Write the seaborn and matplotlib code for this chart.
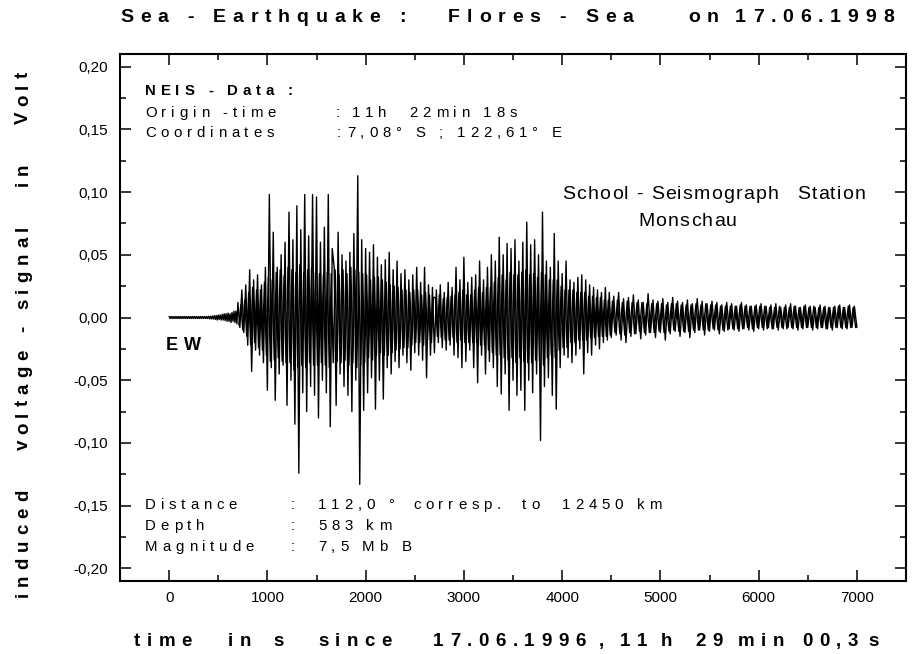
import numpy as np
import pandas as pd
import matplotlib
matplotlib.use("Agg")
import matplotlib.pyplot as plt
import seaborn as sns
from matplotlib.font_manager import FontProperties, findfont, get_font
from matplotlib.ticker import MultipleLocator, FuncFormatter

# ---------------------------------------------------------------------------
# EW component, School-Seismograph Station Monschau (values in Volt).
# "peaks" lists: alternating extreme swings in consecutive sampling windows.
# "core" lists: the dense background oscillation, sampled half a window later.
# ---------------------------------------------------------------------------
quiet_start, quiet_step = 0, 10          # before the P onset
quiet_peaks = [
    0.0008, -0.0008, 0.0008, -0.0008, 0.0008, -0.0008, 0.0008, -0.0008,
    0.0008, -0.0008, 0.0008, -0.0008, 0.0008, -0.0008, 0.0008, -0.0008,
    0.0008, -0.0008, 0.0008, -0.0008, 0.0008, -0.0008, 0.0008, -0.0008,
    0.0008, -0.0008, 0.0008, -0.0008, 0.0008, -0.0008, 0.0008, -0.0008,
    0.0008, -0.0008, 0.0008, -0.0008, 0.0008, -0.0008, 0.0008, -0.0008,
    0.001, -0.001, 0.001, -0.0012, 0.0012, -0.0012, 0.0015, -0.0015,
    0.0015, -0.002, 0.002, -0.0015, 0.002, -0.002, 0.0025, -0.002,
    0.003, -0.0025, 0.003, -0.003, 0.0035, -0.003, 0.003, -0.004,
    0.004, -0.003, 0.005, -0.004, 0.005, -0.005,
]

burst1_start, burst1_step = 700, 20      # first wave group
burst1_peaks = [
    0.012, -0.008, 0.022, -0.012, 0.026, -0.022, 0.038, -0.043, 0.030, -0.026,
    0.034, -0.030, 0.026, -0.036, 0.040, -0.058, 0.098, -0.040, 0.068, -0.066,
    0.040, -0.045, 0.050, -0.038, 0.060, -0.070, 0.084, -0.050, 0.062, -0.085,
    0.089, -0.124, 0.070, -0.060, 0.098, -0.075, 0.065, -0.055, 0.098, -0.062,
    0.096, -0.080, 0.060, -0.050, 0.072, -0.060, 0.098, -0.087, 0.055, 0.040,
    -0.070, 0.068, -0.045, 0.050, -0.055, 0.045, -0.062, 0.052, -0.075, 0.067,
    -0.050, 0.113, -0.133, 0.062, -0.074, 0.055, -0.060, 0.052, -0.048, 0.058,
    -0.073, 0.048, -0.050, 0.042, -0.065, 0.046, -0.040, 0.052, -0.045, 0.038,
    -0.035, 0.045, -0.040, 0.035, -0.030, 0.038, -0.036, 0.030, -0.042, 0.034,
    -0.028, 0.040, -0.030, 0.028, -0.034, 0.040, -0.048, 0.026, -0.030, 0.024,
]
burst1_core = [
    -0.006, 0.010, -0.010, 0.014, -0.015, 0.020, -0.022, 0.024, -0.020, 0.022,
    -0.024, 0.022, -0.026, 0.028, -0.030, 0.032, -0.035, 0.030, -0.034, 0.036,
    -0.032, 0.038, -0.035, 0.033, -0.036, 0.040, -0.036, 0.038, -0.042, 0.036,
    -0.040, 0.042, -0.038, 0.036, -0.040, 0.038, -0.036, 0.040, -0.038, 0.036,
    -0.038, 0.035, -0.036, 0.034, -0.038, 0.036, -0.040, 0.035, -0.036, 0.038,
    -0.035, 0.034, -0.036, 0.038, -0.034, 0.035, -0.038, 0.040, -0.036, 0.038,
    -0.040, 0.036, -0.038, 0.035, -0.036, 0.034, -0.032, 0.030, -0.034, 0.032,
    -0.030, 0.032, -0.028, 0.030, -0.030, 0.028, -0.030, 0.026, -0.028, 0.025,
    -0.026, 0.024, -0.025, 0.022, -0.024, 0.022, -0.024, 0.020, -0.022, 0.022,
    -0.020, 0.022, -0.020, 0.018, -0.022, 0.020, -0.018, 0.018, -0.020, 0.016,
]

burst2_start, burst2_step = 2700, 20     # second wave group
burst2_peaks = [
    -0.028, 0.022, -0.020, 0.026, -0.024, 0.020, -0.026, 0.028, -0.022, 0.024,
    -0.030, 0.040, -0.032, 0.030, -0.040, 0.048, -0.035, 0.028, -0.026, 0.032,
    -0.040, 0.034, -0.052, 0.045, -0.030, 0.030, -0.045, 0.040, -0.035, 0.050,
    -0.040, 0.045, -0.055, 0.064, -0.061, 0.050, -0.045, 0.059, -0.074, 0.055,
    -0.050, 0.062, -0.062, 0.045, -0.058, 0.060, -0.074, 0.076, -0.050, 0.058,
    -0.060, 0.062, -0.045, 0.050, -0.098, 0.084, -0.055, 0.045, -0.048, 0.040,
    -0.062, 0.067, -0.073, 0.045, -0.040, 0.035, -0.030, 0.045, -0.032, 0.030,
    -0.036, 0.028, -0.030, 0.032, -0.025, 0.034, -0.045, 0.030, -0.028, 0.026,
    -0.030, 0.024, -0.022, 0.022, -0.025, 0.020, -0.020, 0.024, -0.018, 0.020,
]
burst2_core = [
    0.016, -0.015, 0.018, -0.016, 0.015, -0.018, 0.016, -0.018, 0.017, -0.016,
    0.018, -0.020, 0.020, -0.018, 0.022, -0.020, 0.018, -0.020, 0.018, -0.020,
    0.022, -0.020, 0.024, -0.022, 0.020, -0.022, 0.024, -0.026, 0.024, -0.028,
    0.028, -0.030, 0.032, -0.030, 0.034, -0.032, 0.030, -0.034, 0.036, -0.032,
    0.034, -0.036, 0.034, -0.032, 0.036, -0.035, 0.038, -0.036, 0.034, -0.036,
    0.035, -0.034, 0.032, -0.035, 0.036, -0.038, 0.034, -0.032, 0.030, -0.030,
    0.030, -0.032, 0.030, -0.026, 0.025, -0.024, 0.022, -0.024, 0.022, -0.020,
    0.022, -0.020, 0.020, -0.018, 0.020, -0.018, 0.020, -0.018, 0.017, -0.016,
    0.017, -0.016, 0.016, -0.015, 0.016, -0.015, 0.014, -0.015, 0.014, -0.014,
]

coda_start, coda_step = 4500, 25         # decaying coda
coda_peaks = [
    -0.016, 0.017, -0.014, 0.020, -0.018, 0.015, -0.020, 0.016, -0.015, 0.018,
    -0.013, 0.014, -0.017, 0.012, -0.014, 0.019, -0.012, 0.014, -0.016, 0.013,
    -0.012, 0.015, -0.018, 0.012, -0.013, 0.016, -0.011, 0.013, -0.015, 0.012,
    -0.012, 0.014, -0.016, 0.011, -0.012, 0.015, -0.010, 0.013, -0.014, 0.011,
    -0.011, 0.013, -0.010, 0.012, -0.013, 0.010, -0.011, 0.012, -0.009, 0.011,
    -0.010, 0.009, -0.011, 0.012, -0.009, 0.010, -0.010, 0.009, -0.011, 0.010,
    -0.009, 0.011, -0.010, 0.009, -0.008, 0.010, -0.009, 0.011, -0.010, 0.008,
    -0.009, 0.010, -0.008, 0.011, -0.009, 0.009, -0.010, 0.008, -0.009, 0.010,
    -0.008, 0.009, -0.010, 0.008, -0.009, 0.010, -0.008, 0.009, -0.009, 0.008,
    -0.010, 0.009, -0.008, 0.010, -0.009, 0.008, -0.009, 0.010, -0.008, 0.009,
    -0.008,
]
coda_core = [
    0.013, -0.012, 0.014, -0.013, 0.012, -0.014, 0.013, -0.012, 0.012, -0.013,
    0.012, -0.011, 0.012, -0.012, 0.011, -0.012, 0.011, -0.012, 0.011, -0.011,
    0.011, -0.012, 0.010, -0.011, 0.011, -0.010, 0.011, -0.011, 0.010, -0.011,
    0.010, -0.011, 0.010, -0.010, 0.011, -0.010, 0.010, -0.010, 0.011, -0.010,
    0.010, -0.009, 0.010, -0.010, 0.009, -0.010, 0.009, -0.010, 0.009, -0.009,
    0.009, -0.009, 0.010, -0.009, 0.009, -0.008, 0.009, -0.009, 0.009, -0.008,
    0.009, -0.008, 0.009, -0.009, 0.008, -0.009, 0.008, -0.008, 0.009, -0.008,
    0.008, -0.009, 0.008, -0.008, 0.009, -0.008, 0.008, -0.008, 0.009, -0.008,
    0.008, -0.008, 0.009, -0.008, 0.008, -0.008, 0.008, -0.009, 0.008, -0.008,
    0.008, -0.008, 0.009, -0.008, 0.008, -0.008, 0.009, -0.008, 0.008, -0.008,
]


def sampled(start, step, values, offset=0.0):
    t = start + offset + step * np.arange(len(values))
    return pd.DataFrame({"time_s": t, "volt": np.asarray(values, float)})


peak_part = pd.concat([
    sampled(quiet_start, quiet_step, quiet_peaks),
    sampled(burst1_start, burst1_step, burst1_peaks),
    sampled(burst2_start, burst2_step, burst2_peaks),
    sampled(coda_start, coda_step, coda_peaks),
]).assign(series="peaks")
core_part = pd.concat([
    sampled(burst1_start, burst1_step, burst1_core, burst1_step / 2),
    sampled(burst2_start, burst2_step, burst2_core, burst2_step / 2),
    sampled(coda_start, coda_step, coda_core, coda_step / 2),
]).assign(series="core")
trace = pd.concat([peak_part, core_part], ignore_index=True)

# ---------------------------------------------------------------------------
sns.set_theme(style="ticks")
plt.rcParams["font.family"] = ["Liberation Sans", "DejaVu Sans"]

W, H, DPI = 913, 654, 100
fig = plt.figure(figsize=(W / DPI, H / DPI), dpi=DPI, facecolor="white")
ax = fig.add_axes([120 / W, 1 - 581 / H, 786 / W, 527 / H])
ax.set_facecolor("white")

sns.lineplot(data=trace, x="time_s", y="volt", units="series", ax=ax,
             color="black", linewidth=1.0, estimator=None)

ax.set_xlim(-500, 7500)
ax.set_ylim(-0.21, 0.21)
ax.set_xlabel("")
ax.set_ylabel("")
ax.xaxis.set_major_locator(MultipleLocator(1000))
ax.xaxis.set_minor_locator(MultipleLocator(500))
ax.yaxis.set_major_locator(MultipleLocator(0.05))
ax.yaxis.set_minor_locator(MultipleLocator(0.025))


def comma_fmt(v, _):
    if abs(v) < 1e-9:
        v = 0.0
    return f"{v:.2f}".replace(".", ",")


ax.yaxis.set_major_formatter(FuncFormatter(comma_fmt))
ax.xaxis.set_major_formatter(FuncFormatter(lambda v, _: f"{v:.0f}"))
ax.tick_params(which="both", direction="in", top=True, right=True,
               color="black", labelcolor="black")
ax.tick_params(which="major", length=7.7, width=1.1, labelsize=11)
ax.tick_params(which="minor", length=4.3, width=1.1)
ax.tick_params(axis="x", which="major", pad=7.5)
ax.tick_params(axis="y", which="major", pad=9)
for sp in ax.spines.values():
    sp.set_visible(True)
    sp.set_color("black")
    sp.set_linewidth(1.5)


# ---------------------------------------------------------------------------
# letter-spaced annotation text (positions in pixels from the top-left corner)
def _advances(text, prop):
    font = get_font(findfont(prop))
    font.set_size(prop.get_size_in_points(), DPI)
    return [font.load_char(ord(ch)).linearHoriAdvance / 65536.0 for ch in text]


def spaced(text, x, y, size, track, weight="normal", vertical=False):
    prop = FontProperties(family="Liberation Sans", size=size, weight=weight)
    pos = y if vertical else x
    for ch, adv in zip(text, _advances(text, prop)):
        if not ch.isspace():
            if vertical:
                fig.text(x / W, 1 - pos / H, ch, fontproperties=prop,
                         rotation=90, rotation_mode="anchor",
                         ha="left", va="baseline", color="black")
            else:
                fig.text(pos / W, 1 - y / H, ch, fontproperties=prop,
                         ha="left", va="baseline", color="black")
        pos += -(adv + track) if vertical else (adv + track)


BIG, SMALL = 13.5, 10.8

# title
for part, x in [("Sea - Earthquake :", 120), ("Flores - Sea", 448),
                ("on", 688), ("17.06.1998", 735)]:
    spaced(part, x, 22, 14, 6.8, weight="bold")

# axis titles
for part, x in [("time", 134), ("in", 228), ("s", 273), ("since", 318),
                ("17.06.1996", 433), (",", 599), ("11", 620), ("h", 661),
                ("29", 695), ("min", 738), ("00,3", 802), ("s", 868)]:
    spaced(part, x, 646, BIG, 6.5, weight="bold")
spaced("induced   voltage - signal   in   Volt", 28, 597, BIG, 5.9,
       weight="bold", vertical=True)

# event data from NEIS
spaced("NEIS - Data :", 145, 95, SMALL, 4.8, weight="bold")
spaced("Origin -time", 145, 117, SMALL, 4.8)
spaced(":", 336, 117, SMALL, 4.8)
spaced("11h  22min 18s", 352, 117, SMALL, 4.8)
spaced("Coordinates", 145, 137, SMALL, 4.8)
spaced(":", 337, 137, SMALL, 4.8)
spaced("7,08° S ; 122,61° E", 347, 137, SMALL, 4.8)

spaced("Distance", 145, 509, SMALL, 4.8)
spaced(":", 291, 509, SMALL, 4.8)
for part, x in [("112,0 °", 318), ("corresp.", 413), ("to", 522),
                ("12450 km", 562)]:
    spaced(part, x, 509, SMALL, 4.8)
spaced("Depth", 145, 530, SMALL, 4.8)
spaced(":", 291, 530, SMALL, 4.8)
spaced("583 km", 318, 530, SMALL, 4.8)
spaced("Magnitude", 145, 551, SMALL, 4.8)
spaced(":", 291, 551, SMALL, 4.8)
spaced("7,5 Mb B", 318, 551, SMALL, 4.8)

# station and component
spaced("School - Seismograph", 562, 199, 14, 1.3)
spaced("Station", 797, 199, 14, 1.3)
spaced("Monschau", 638, 226, 14, 1.3)
spaced("EW", 166, 350, 13, 6, weight="bold")

fig.savefig("out.png", dpi=DPI, facecolor="white")
